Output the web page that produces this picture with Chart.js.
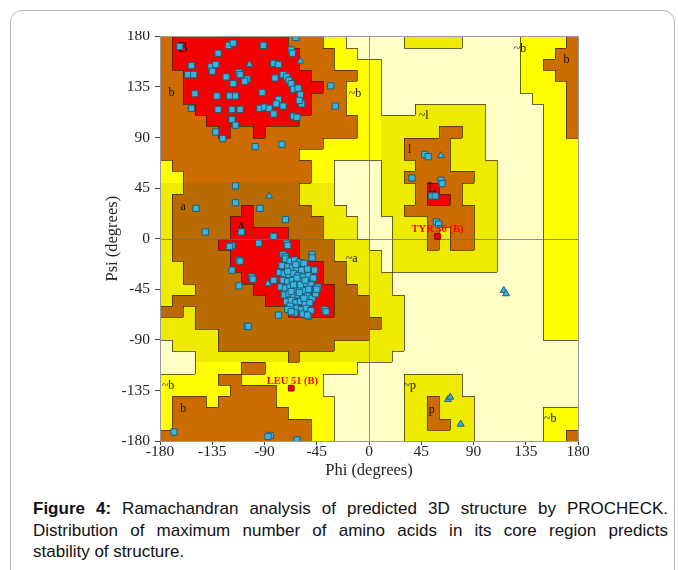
<!DOCTYPE html>
<html lang="en">
<head>
  <meta charset="UTF-8" />
  <title>Ramachandran plot</title>
  <script src="https://cdn.jsdelivr.net/npm/chart.js"></script>
  <style>
    body { margin: 0; background: #fff; width: 678px; height: 570px; overflow: hidden; position: relative; }
    .frame { position: absolute; left: 10px; top: 10px; width: 665px; height: 620px; border: 1px solid #b8b8b8; border-radius: 12px; box-sizing: border-box; }
    .plot { position: absolute; left: 0; top: 31px; width: 678px; height: 458px; }
    .caption { position: absolute; left: 33px; top: 498px; width: 635px; font-family: "Liberation Sans", Arial, sans-serif; font-size: 17px; line-height: 21.5px; color: #111; }
    .caption .l { text-align: justify; text-align-last: justify; }
  </style>
</head>
<body>
  <div class="frame"></div>
  <div class="plot"><canvas id="rama"></canvas></div>
  <div class="caption">
    <div class="l"><b>Figure 4:</b> Ramachandran analysis of predicted 3D structure by PROCHECK.</div>
    <div class="l">Distribution of maximum number of amino acids in its core region predicts</div>
    <div>stability of structure.</div>
  </div>

  <script>
    // axis ticks
    var phiTicks = [-180, -135, -90, -45, 0, 45, 90, 135, 180];
    var psiTicks = [-180, -135, -90, -45, 0, 45, 90, 135, 180];

    // region map, 10 degree cells, rows psi 180 -> -180, columns phi -180 -> 180
    // R core, B/A allowed, Y/y generous, . disallowed (run length coded)
    var regionRows = [
      "B1 R10 B3 Y2 .5 y5 .5 Y4 B1",
      "B1 R11 B3 Y2 .14 Y3 B2",
      "B1 R11 B3 Y4 .12 Y2 B3",
      "B2 R11 B4 Y2 .12 Y3 B2",
      "B2 R12 B2 Y3 .12 Y4 B1",
      "B2 R11 B3 Y3 .13 Y3 B1",
      "B3 R10 B3 Y3 .3 y6 .5 Y2 B1",
      "B4 R8 B5 Y2 y9 .5 Y2 B1",
      "B5 R1 B2 R1 B8 Y2 y5 B2 y2 .5 Y2 B1",
      "B14 Y5 y2 B4 y3 .5 Y3",
      "B12 Y7 y2 B4 y3 .5 Y3",
      "Y1 B12 Y2 .4 y3 B3 y4 .4 Y3",
      "Y2 B11 Y2 .4 y2 B6 y2 .4 Y3",
      "y2 A10 y3 .4 y3 B1 R1 B2 y3 .4 Y3",
      "y1 A11 y3 .4 y3 B1 R2 B1 y3 .4 Y3",
      "y1 A6 R1 A5 y3 .3 y2 B6 y2 .4 Y3",
      "y1 A5 R2 A6 y3 .3 y3 B4 y2 .4 Y3",
      "y1 A5 R5 A3 y3 .3 y3 B1 y1 B2 y2 .4 Y3",
      "y1 A4 R7 A3 y3 .2 y3 B1 y1 B2 y2 .4 Y3",
      "y1 A5 R6 A3 y4 .1 y9 .4 Y3",
      "y2 A4 R8 A2 y3 .1 y9 .4 Y3",
      "y2 A5 R7 A2 y4 .13 Y3",
      "y3 A5 R7 A2 y3 .13 Y3",
      "y1 A8 R6 A3 y3 .12 Y3",
      "A2 y1 A8 R4 A3 y3 .12 Y3",
      "y3 A16 y2 .12 Y3",
      "y5 A13 y3 .12 Y3",
      ".1 y4 A10 y6 .15",
      ".3 y8 A1 y8 .16",
      ".3 Y4 B2 Y8 .19",
      "Y5 B2 Y7 .7 y5 .10",
      "Y6 B4 Y4 .7 y5 .10",
      "Y1 B3 Y1 B5 Y5 .6 y2 B1 y3 .9",
      "Y1 B10 Y4 .6 y2 B1 y3 .6 Y3",
      "Y1 B12 Y2 .6 y2 B2 y2 .6 Y3",
      "B13 Y2 .6 y6 .6 Y2 B1"
    ];

    // residues (squares)
    var resPhi = [-163, -121, -117, -91, -67, -66, -63, -130, -153, -156, -151, -136, -132, -135, -112, -111, -123, -105, -107,
      -82, -78, -81, -74, -71, -69, -67, -65, -61, -59, -58, -60, -33, -29, -92, -150, -131, -120, -115, -117, -153, -130,
      -118, -111, -94, -90, -86, -78, -80, -82, -74, -65, -62, -118, -115, -132, -126, -98, -75,
      -115, -115, -94, -149, -141, -72, -110, -83, -118, -120, -95, -112, -111, -118, -101, -100, -112, -82, -105, -104,
      -82, -71, -70, -74, -72, -49, -49,
      -72, -68, -64, -60, -56, -75, -70, -66, -62, -58, -53, -77, -73, -69, -65, -61, -57, -52, -48, -74, -70, -66, -62,
      -58, -54, -50, -76, -72, -68, -64, -60, -56, -52, -46, -73, -69, -65, -61, -57, -53, -49, -71, -67, -63, -59, -55,
      -51, -66, -62, -58, -54, -50, -64, -57, -52, -46, -44, -47, -63, -67, -59, -62, -70, -55, -65, -60, -56, -68, -38,
      -37, -78, -70, -67, -53, -45,
      -168, -85, -87, -62,
      48, 51, 37, 62, 63, 54, 57, 58, 60];
    var resPsi = [171, 172, 174, 172, 168, 165, 179, 165, 154, 146, 146, 153, 155, 149, 148, 146, 144, 142, 140,
      156, 155, 143, 146, 144, 141, 138, 133, 134, 128, 120, 123, 136, 118, 130, 129, 127, 127, 127, 138, 116, 115,
      115, 115, 116, 117, 116, 124, 120, 111, 118, 109, 108, 106, 101, 95, 89, 82, 84,
      47, 32, 27, 27, 6, 17, 6, 2, -6, -7, -4, -19, -20, -28, -34, -36, -42, -37, -78, -78,
      2, -4, -6, -14, -16, -14, -17,
      -18, -20, -19, -21, -22, -24, -25, -26, -27, -28, -27, -30, -31, -32, -31, -33, -34, -33, -35, -37, -38, -37, -39,
      -38, -40, -41, -43, -44, -43, -45, -44, -46, -45, -44, -50, -49, -51, -50, -52, -51, -53, -56, -55, -57, -56, -58,
      -57, -61, -62, -63, -62, -64, -66, -67, -69, -49, -43, -28, -23, -47, -41, -35, -29, -37, -41, -48, -53, -60, -63,
      -65, -68, -63, -65, -68, -45,
      -172, -175, -176, -179,
      75, 73, 54, 52, 49, 38, 38, 15, 13];

    // glycines (triangles)
    var glyPhi = [-103, -86, -59, 62, -87, 116, 118, 68, 70, 79];
    var glyPsi = [155, 38, 158, 74, -40, -46, -49, -143, -141, -165];

    // residues flagged in generously allowed regions
    var outName = ["TYR 56 (B)", "LEU 51 (B)"];
    var outPhi = [59, -67];
    var outPsi = [2, -133];
    var outLabelPhi = [59, -66];
    var outLabelPsi = [8, -127];

    // region labels
    var regText = ["B", "b", "a", "A", "~b", "~b", "b", "~l", "l", "L", "~a", "~b", "b", "~p", "p", "~b"];
    var regPhi = [-160, -170, -160, -110, -12, 130, 170, 47, 35, 54, -15, -173, -160, 35, 54, 156];
    var regPsi = [169, 130, 28, 9, 129, 169, 159, 109, 79, 45, -18, -131, -151, -131, -152, -160];

    var cellColor = { R: "#f40000", B: "#cb6b00", A: "#b96a00", Y: "#ffff00", y: "#eeea00", ".": "#ffffc6" };
    var cellLevel = { R: 3, B: 2, A: 2, Y: 1, y: 1, ".": 0 };

    function expandRow(s) {
      var out = "";
      s.split(" ").forEach(function (seg) {
        out += seg[0].repeat(parseInt(seg.slice(1), 10));
      });
      return out;
    }
    var grid = regionRows.map(expandRow);

    function toPoints(xs, ys) {
      var pts = [];
      for (var i = 0; i < xs.length; i++) pts.push({ x: xs[i], y: ys[i] });
      return pts;
    }

    var serif = '"Liberation Serif", "DejaVu Serif", serif';

    var regionPlugin = {
      id: "regions",
      beforeDatasetsDraw: function (chart) {
        var ctx = chart.ctx, xs = chart.scales.x, ys = chart.scales.y, a = chart.chartArea;
        function px(v) { return Math.round(xs.getPixelForValue(v)); }
        function py(v) { return Math.round(ys.getPixelForValue(v)); }
        ctx.save();
        ctx.beginPath();
        ctx.rect(a.left, a.top, a.right - a.left, a.bottom - a.top);
        ctx.clip();
        for (var r = 0; r < grid.length; r++) {
          for (var c = 0; c < grid[r].length; c++) {
            var x0 = px(-180 + 10 * c), x1 = px(-170 + 10 * c);
            var y0 = py(180 - 10 * r), y1 = py(170 - 10 * r);
            ctx.fillStyle = cellColor[grid[r][c]];
            ctx.fillRect(x0, y0, x1 - x0, y1 - y0);
          }
        }
        // region outlines
        ctx.strokeStyle = "rgba(45,35,10,0.7)";
        ctx.lineWidth = 1;
        ctx.beginPath();
        for (r = 0; r < grid.length; r++) {
          for (c = 0; c < grid[r].length; c++) {
            var lv = cellLevel[grid[r][c]];
            var xe = px(-170 + 10 * c) + 0.5, ye = py(170 - 10 * r) + 0.5;
            if (c < 35 && cellLevel[grid[r][c + 1]] !== lv) {
              ctx.moveTo(xe, py(180 - 10 * r));
              ctx.lineTo(xe, py(170 - 10 * r));
            }
            if (r < 35 && cellLevel[grid[r + 1][c]] !== lv) {
              ctx.moveTo(px(-180 + 10 * c), ye);
              ctx.lineTo(px(-170 + 10 * c), ye);
            }
          }
        }
        ctx.stroke();
        // zero lines
        ctx.strokeStyle = "rgba(110,110,110,0.75)";
        ctx.beginPath();
        ctx.moveTo(px(0) + 0.5, a.top);
        ctx.lineTo(px(0) + 0.5, a.bottom);
        ctx.moveTo(a.left, py(0) + 0.5);
        ctx.lineTo(a.right, py(0) + 0.5);
        ctx.stroke();
        // region labels
        ctx.fillStyle = "#111";
        ctx.textAlign = "center";
        ctx.textBaseline = "middle";
        for (var i = 0; i < regText.length; i++) {
          var big = regText[i] === regText[i].toUpperCase();
          ctx.font = (big ? "14px " : "12px ") + serif;
          ctx.fillText(regText[i], xs.getPixelForValue(regPhi[i]), ys.getPixelForValue(regPsi[i]));
        }
        ctx.restore();
      },
      afterDatasetsDraw: function (chart) {
        var ctx = chart.ctx, xs = chart.scales.x, ys = chart.scales.y, a = chart.chartArea;
        ctx.save();
        ctx.fillStyle = "#ff0000";
        ctx.font = "bold 10.5px " + serif;
        ctx.textAlign = "center";
        ctx.textBaseline = "middle";
        for (var i = 0; i < outName.length; i++) {
          ctx.fillText(outName[i], xs.getPixelForValue(outLabelPhi[i]), ys.getPixelForValue(outLabelPsi[i]));
        }
        ctx.strokeStyle = "#9a9a9a";
        ctx.lineWidth = 1;
        ctx.strokeRect(Math.round(a.left) + 0.5, Math.round(a.top) + 0.5, Math.round(a.right - a.left), Math.round(a.bottom - a.top));
        ctx.restore();
      }
    };

    new Chart(document.getElementById("rama"), {
      type: "scatter",
      data: {
        datasets: [
          {
            label: "Residues",
            data: toPoints(resPhi, resPsi),
            pointStyle: "rect",
            pointRadius: 4.4,
            backgroundColor: "#37b3e0",
            borderColor: "#1f5f78",
            borderWidth: 1
          },
          {
            label: "Glycine",
            data: toPoints(glyPhi, glyPsi),
            pointStyle: "triangle",
            pointRadius: 4,
            backgroundColor: "#37b3e0",
            borderColor: "#1f5f78",
            borderWidth: 1
          },
          {
            label: "Outliers",
            data: toPoints(outPhi, outPsi),
            pointStyle: "rect",
            pointRadius: 4,
            backgroundColor: "#ff0000",
            borderColor: "#8a0000",
            borderWidth: 1
          }
        ]
      },
      options: {
        responsive: true,
        maintainAspectRatio: false,
        animation: false,
        devicePixelRatio: 1,
        events: [],
        layout: { padding: { left: 0, right: 100, top: 2, bottom: 0 } },
        plugins: { legend: { display: false }, tooltip: { enabled: false } },
        scales: {
          x: {
            type: "linear",
            min: -180,
            max: 180,
            afterBuildTicks: function (s) { s.ticks = phiTicks.map(function (v) { return { value: v }; }); },
            afterFit: function (s) { s.height = 48; s.paddingLeft = 0; s.paddingRight = 0; },
            ticks: { font: { family: serif, size: 15.5 }, color: "#222", padding: -2, maxRotation: 0, autoSkip: false },
            grid: { drawOnChartArea: false, tickLength: 4, color: "#444" },
            border: { color: "#777" },
            title: { display: true, text: "Phi (degrees)", font: { family: serif, size: 16.5 }, color: "#222", padding: { top: 0, bottom: 8 } }
          },
          y: {
            type: "linear",
            min: -180,
            max: 180,
            afterBuildTicks: function (s) { s.ticks = psiTicks.map(function (v) { return { value: v }; }); },
            afterFit: function (s) { s.width = 160; s.paddingTop = 0; s.paddingBottom = 0; },
            ticks: { font: { family: serif, size: 15.5 }, color: "#222", padding: 5, autoSkip: false },
            grid: { drawOnChartArea: false, tickLength: 5, color: "#444" },
            border: { color: "#777" },
            title: { display: true, text: "Psi (degrees)", font: { family: serif, size: 16.5 }, color: "#222", padding: { top: 103, bottom: 0 } }
          }
        }
      },
      plugins: [regionPlugin]
    });
  </script>
</body>
</html>
